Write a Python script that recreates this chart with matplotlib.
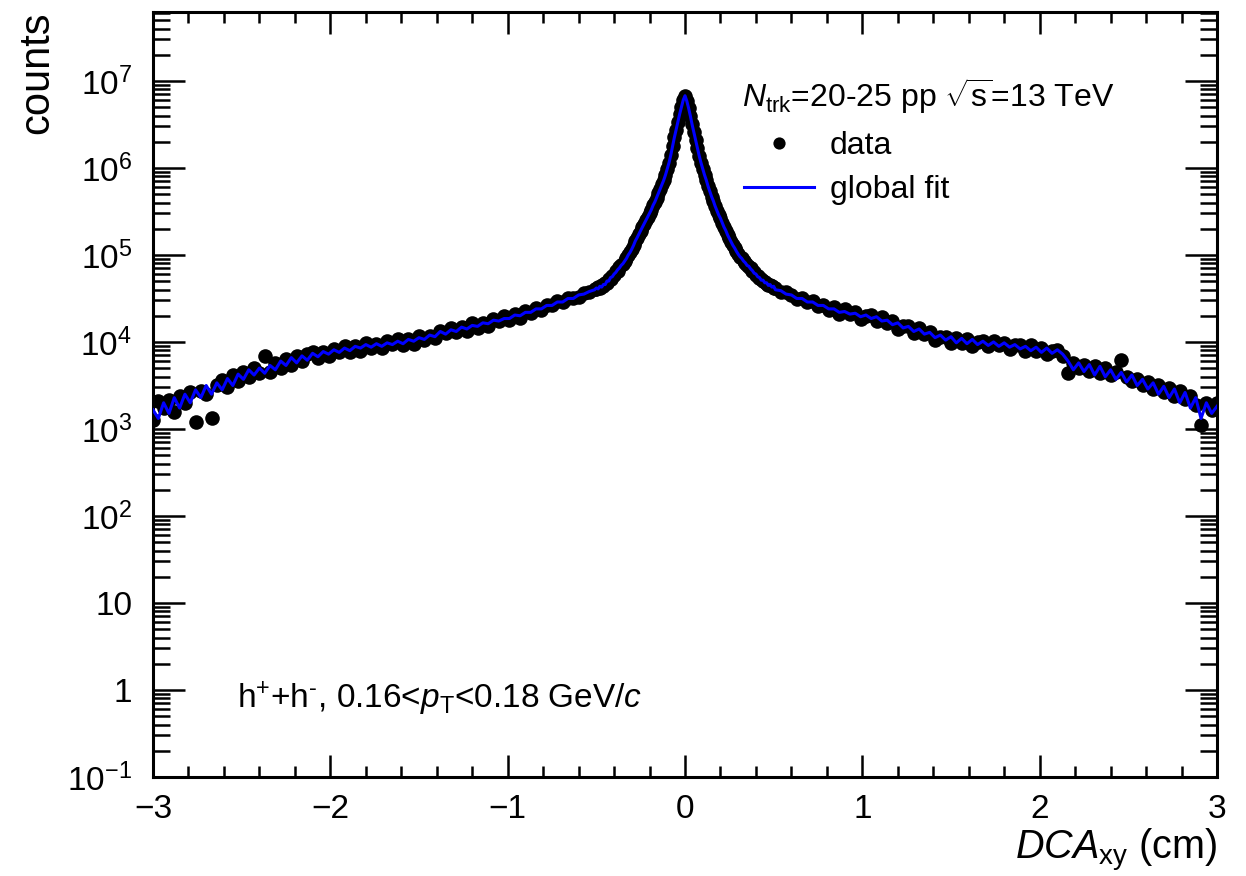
import numpy as np
import matplotlib
matplotlib.use('Agg')
import matplotlib.pyplot as plt
from matplotlib.ticker import FixedLocator, MultipleLocator, LogLocator, NullFormatter
from matplotlib.lines import Line2D

# ---------------- binning (tails: 0.03 cm bins, core: 0.01 cm bins) ----------------
left_tail_bins = (-3.00, -0.51, 84)
core_bins = (-0.50, 0.50, 101)
right_tail_bins = (0.51, 3.00, 84)

# ---------------- data ----------------
data_left = [
    1260, 2090, 1740, 2140, 1580, 2400, 2000, 2630, 1200, 2750,
    2510, 1320, 3160, 3630, 3020, 4170, 3550, 4570, 3980, 5010,
    4370, 6920, 4570, 5750, 5010, 6310, 5500, 6920, 6030, 7240,
    7590, 6610, 7590, 6920, 8320, 7760, 8910, 7760, 8910, 7940,
    9770, 8510, 9440, 8510, 10200, 9550, 10800, 9330, 10700, 9550,
    11700, 10500, 11700, 11000, 13500, 12600, 14500, 12900, 14800, 13200,
    16600, 14500, 16600, 15100, 18600, 17400, 20000, 17800, 20900, 19100,
    22900, 21400, 24500, 23400, 26900, 26300, 29500, 28800, 32400, 31600,
    33100, 36300, 38000, 40700,
]
data_core = [
    40700, 42700, 41700, 44700, 43700, 47900, 47900, 52500, 52500, 57500,
    58900, 64600, 66100, 72400, 75900, 79400, 85100, 91200, 100000, 107000,
    117000, 129000, 145000, 158000, 174000, 191000, 209000, 229000, 251000, 275000,
    302000, 331000, 372000, 407000, 457000, 513000, 575000, 646000, 724000, 832000,
    977000, 1150000, 1410000, 1780000, 2240000, 2750000, 3390000, 4170000, 5010000, 6030000,
    6760000,
    5890000, 4900000, 3980000, 3160000, 2570000, 2090000, 1700000, 1380000, 1150000, 977000,
    832000, 724000, 617000, 537000, 468000, 417000, 363000, 324000, 288000, 263000,
    234000, 209000, 191000, 170000, 155000, 141000, 129000, 120000, 110000, 102000,
    95500, 91200, 85100, 81300, 75900, 72400, 70800, 64600, 63100, 58900,
    57500, 53700, 52500, 50100, 49000, 46800, 45700, 44700, 43700, 41700,
]
data_right = [
    41700, 37200, 37200,
    34700, 30900, 32400, 28800, 29500, 25700, 26900, 23400, 25100, 20900,
    24000, 20900, 21900, 18200, 20000, 20400, 17400, 19500, 16600, 17400,
    14100, 15100, 15100, 12600, 14500, 12300, 12900, 10500, 11500, 11500,
    9770, 11200, 9770, 10700, 8910, 10000, 10200, 8910, 10200, 9120,
    9770, 8320, 9120, 9330, 7940, 9120, 7940, 8510, 7240, 7940,
    8130, 6920, 4370, 5750, 5010, 5500, 4680, 5250, 4370, 5010,
    4170, 4570, 6170, 3980, 3550, 3800, 3160, 3470, 2880, 3160,
    2630, 2950, 2400, 2750, 2190, 2400, 1910, 1100, 2000, 1660,
    2000,
]

fit_left = [
    1660, 1320, 2000, 1510, 2290, 1740, 2510, 2000, 2820, 2290,
    3160, 2510, 3390, 2820, 3800, 3160, 4270, 3720, 4790, 4170,
    5010, 4370, 5370, 4790, 6030, 5370, 6610, 5750, 6920, 6170,
    7410, 6760, 7760, 7240, 8130, 7590, 8510, 7940, 8910, 8510,
    9330, 8710, 9550, 8910, 9770, 9330, 10200, 9550, 10700, 10200,
    11200, 10700, 12000, 11500, 13200, 12300, 13800, 13200, 14800, 14100,
    15500, 15100, 16600, 16200, 17800, 17400, 18600, 18600, 20400, 20000,
    21900, 21900, 24000, 24000, 26300, 26300, 28800, 28800, 31600, 31600,
    34700, 35500, 38000, 39800,
]
fit_core = [
    41700, 40700, 43700, 42700, 45700, 45700, 50100, 50100, 55000, 56200,
    60300, 63100, 67600, 70800, 75900, 79400, 85100, 91200, 100000, 107000,
    117000, 129000, 145000, 158000, 174000, 191000, 209000, 229000, 251000, 275000,
    302000, 331000, 372000, 407000, 457000, 513000, 575000, 646000, 724000, 832000,
    977000, 1150000, 1410000, 1780000, 2240000, 2750000, 3390000, 4170000, 5010000, 6030000,
    6760000,
    5890000, 4900000, 3980000, 3160000, 2570000, 2090000, 1700000, 1380000, 1150000, 977000,
    832000, 724000, 617000, 537000, 468000, 417000, 363000, 324000, 288000, 263000,
    234000, 209000, 191000, 170000, 155000, 141000, 129000, 120000, 110000, 102000,
    95500, 91200, 85100, 81300, 75900, 74100, 69200, 66100, 61700, 60300,
    56200, 55000, 51300, 51300, 47900, 47900, 44700, 45700, 42700, 43700,
]
fit_right = [
    39800, 38900, 35500,
    34700, 31600, 31600, 28800, 28800, 26300, 26300, 24000, 24000, 21900,
    22400, 20900, 21400, 19500, 20400, 18600, 19500, 17400, 17800, 15800,
    16600, 14500, 15100, 13200, 14100, 12300, 12900, 11200, 12000, 10500,
    11500, 9770, 11000, 9550, 10700, 9330, 10200, 9120, 10000, 8910,
    9770, 8710, 9330, 8320, 8910, 7940, 8710, 7590, 8510, 7410,
    8130, 7240, 6030, 4790, 5750, 4570, 5500, 4170, 5250, 3980,
    4790, 3720, 4470, 3470, 4170, 3160, 3720, 2880, 3390, 2510,
    3090, 2290, 2880, 2000, 2630, 1740, 2290, 1320, 2000, 1510,
    1820,
]

x_ticks = [-3, -2, -1, 0, 1, 2, 3]
x_tick_labels = ['\u22123', '\u22122', '\u22121', '0', '1', '2', '3']
y_ticks = [1e-1, 1, 10, 1e2, 1e3, 1e4, 1e5, 1e6, 1e7]
y_tick_labels = [r'$10^{-1}$', '1', '10', r'$10^{2}$', r'$10^{3}$',
                 r'$10^{4}$', r'$10^{5}$', r'$10^{6}$', r'$10^{7}$']
x_range = (-3.0, 3.0)
y_range = (0.1, 6.2e7)

legend_labels = ['data', 'global fit']
header_text = r'$N_{\mathrm{trk}}$=20-25 pp $\sqrt{\mathrm{s}}$=13 TeV'
selection_text = r'$\mathrm{h}^{+}$+$\mathrm{h}^{\text{-}}$, 0.16<$p_{\mathrm{T}}$<0.18 GeV/$c$'

# ---------------- style ----------------
plt.rcParams['font.family'] = ['Liberation Sans', 'DejaVu Sans']
plt.rcParams['mathtext.fontset'] = 'custom'
plt.rcParams['mathtext.rm'] = 'Liberation Sans'
plt.rcParams['mathtext.it'] = 'Liberation Sans:italic'
plt.rcParams['mathtext.bf'] = 'Liberation Sans:bold'
plt.rcParams['mathtext.sf'] = 'Liberation Sans'

W, H = 1246, 876
fig = plt.figure(figsize=(W / 100, H / 100), dpi=100)
ax = fig.add_axes([153 / W, 1 - 777 / H, (1217 - 153) / W, (777 - 12) / H])

x = np.concatenate([np.linspace(*left_tail_bins),
                    np.linspace(*core_bins),
                    np.linspace(*right_tail_bins)])
data_counts = np.array(data_left + data_core + data_right, dtype=float)
fit_counts = np.array(fit_left + fit_core + fit_right, dtype=float)

ax.plot(x, data_counts, ls='none', marker='o', color='black', ms=10.5,
        mec='none', zorder=2)
ax.plot(x, fit_counts, '-', color='blue', lw=2.2, zorder=3)

ax.set_yscale('log')
ax.set_xlim(*x_range)
ax.set_ylim(*y_range)

ax.xaxis.set_major_locator(FixedLocator(x_ticks))
ax.set_xticklabels(x_tick_labels)
ax.xaxis.set_minor_locator(MultipleLocator(0.2))
ax.yaxis.set_major_locator(FixedLocator(y_ticks))
ax.set_yticklabels(y_tick_labels)
ax.yaxis.set_minor_locator(LogLocator(base=10, subs=np.arange(2, 10), numticks=30))
ax.yaxis.set_minor_formatter(NullFormatter())

ax.tick_params(axis='both', which='both', direction='in', top=True, right=True,
               width=1.8, colors='black')
ax.tick_params(axis='x', which='major', length=16, pad=12, labelsize=24)
ax.tick_params(axis='x', which='minor', length=8)
ax.tick_params(axis='y', which='major', length=23, pad=15, labelsize=24)
ax.tick_params(axis='y', which='minor', length=12)
for s in ax.spines.values():
    s.set_linewidth(2.2)

ax.set_xlabel(r'$DCA_{\mathrm{xy}}$ (cm)', fontsize=28.5, loc='right')
ax.xaxis.set_label_coords(1.0, -0.066)
ax.set_ylabel('counts', fontsize=30, loc='top')
ax.yaxis.set_label_coords(-0.09, 1.0)

h_data = Line2D([], [], ls='none', marker='o', color='black', ms=8.8, mec='none')
h_fit = Line2D([], [], color='blue', lw=2.2)
ax.legend([h_data, h_fit], legend_labels, loc='upper left',
          bbox_to_anchor=(744 / W, 1 - 131 / H), bbox_transform=fig.transFigure,
          frameon=False, fontsize=23, handlelength=2.19, handletextpad=0.5,
          labelspacing=0.43, borderpad=0, borderaxespad=0)

fig.text(742 / W, 1 - 107 / H, header_text, fontsize=23, va='baseline')
fig.text(237 / W, 1 - 708 / H, selection_text, fontsize=24, va='baseline')

fig.savefig('out.png', dpi=100)
